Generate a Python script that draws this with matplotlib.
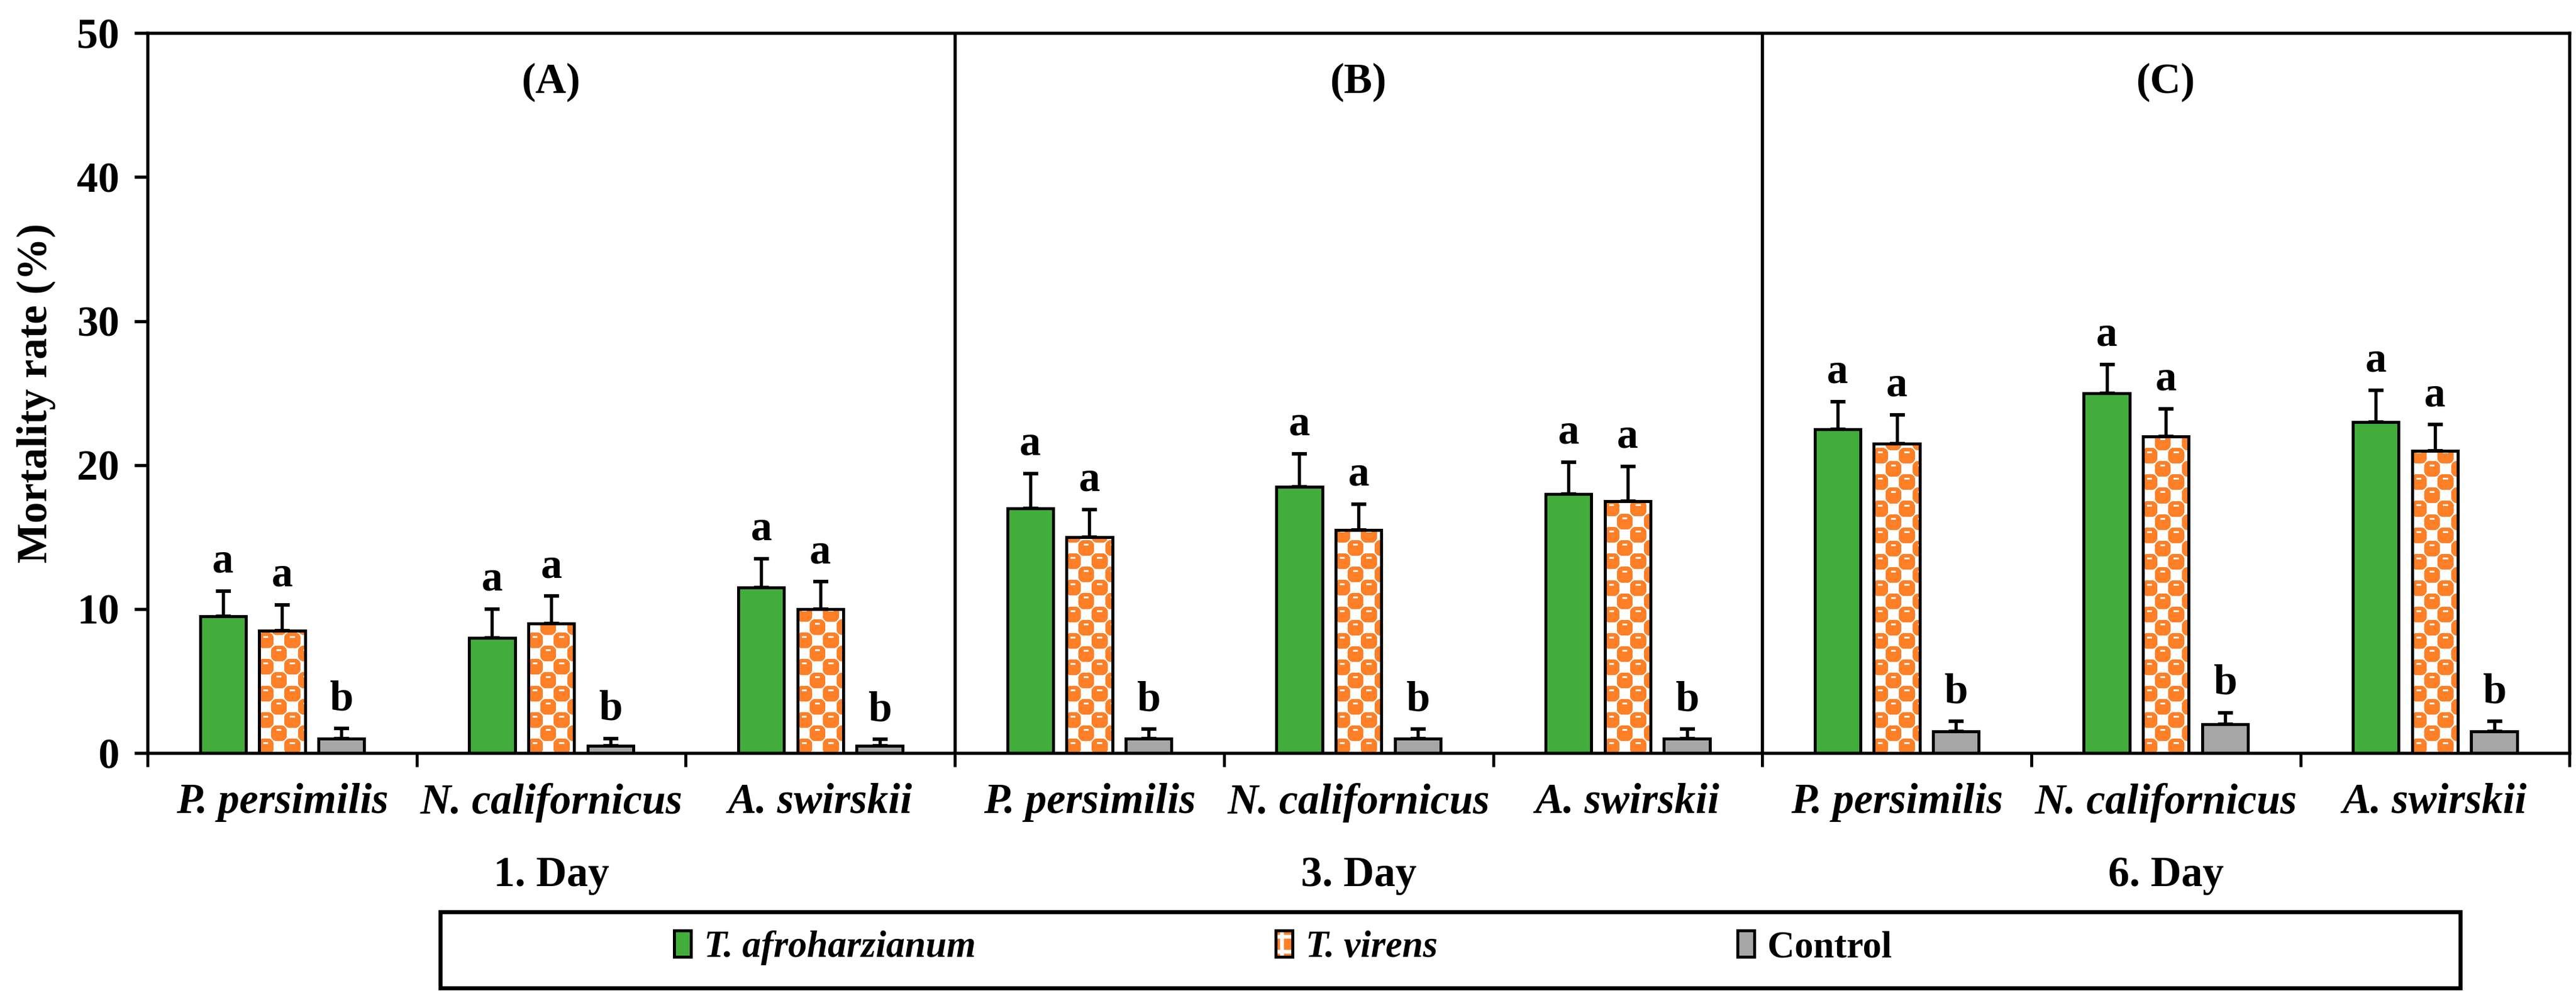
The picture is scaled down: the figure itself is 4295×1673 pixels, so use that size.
import numpy as np
import matplotlib
matplotlib.use("Agg")
import matplotlib.pyplot as plt
import matplotlib.transforms as mtransforms
from matplotlib.patches import Patch, Rectangle

plt.rcParams['font.family'] = ['Liberation Serif', 'DejaVu Serif']
plt.rcParams['font.weight'] = 'bold'
plt.rcParams['hatch.linewidth'] = 1.5

# ---- data ----
species = ["P. persimilis", "N. californicus", "A. swirskii"]
days = ["1. Day", "3. Day", "6. Day"]
panels = ["(A)", "(B)", "(C)"]
series = ["T. afroharzianum", "T. virens", "Control"]

# order: day1 (Pp, Nc, As), day3 (Pp, Nc, As), day6 (Pp, Nc, As)
afro = [9.5, 8.0, 11.5, 17.0, 18.5, 18.0, 22.5, 25.0, 23.0]
afro_se = [1.75, 2.0, 2.0, 2.4, 2.3, 2.2, 1.9, 2.0, 2.2]
virens = [8.5, 9.0, 10.0, 15.0, 15.5, 17.5, 21.5, 22.0, 21.0]
virens_se = [1.8, 1.9, 1.9, 1.9, 1.8, 2.4, 2.0, 1.9, 1.8]
control = [1.0, 0.5, 0.5, 1.0, 1.0, 1.0, 1.5, 2.0, 1.5]
control_se = [0.7, 0.5, 0.45, 0.65, 0.65, 0.65, 0.7, 0.8, 0.7]

afro_let = ["a", "a", "a", "a", "a", "a", "a", "a", "a"]
virens_let = ["a", "a", "a", "a", "a", "a", "a", "a", "a"]
control_let = ["b", "b", "b", "b", "b", "b", "b", "b", "b"]

GREEN = "#42AD3A"
ORANGE = "#FF7F27"
GRAY = "#A6A6A6"

W_PX, H_PX, DPI = 4295, 1673, 300
fig = plt.figure(figsize=(W_PX / DPI, H_PX / DPI), dpi=DPI)
ax_rect = [0.0573, 0.2492, 0.9402, 0.7178]
ax = fig.add_axes(ax_rect)

n = len(afro)
x = np.arange(n) + 0.5
off = 0.22
bw = 0.17
lw = 1.2

ax.bar(x - off, afro, bw, color=GREEN, edgecolor="black", linewidth=lw, zorder=2)
vbars = ax.bar(x, virens, bw, color=ORANGE, edgecolor="black", linewidth=lw, zorder=2)
ax.bar(x + off, control, bw, color=GRAY, edgecolor="black", linewidth=lw, zorder=2)

# checkerboard-like fill for the T. virens bars (rounded orange blobs, white gaps)
cell = 22
yy, xx = np.mgrid[0:2 * cell, 0:2 * cell] + 0.5
u = (xx % cell) / cell - 0.5
v = (yy % cell) / cell - 0.5
par = ((xx // cell) + (yy // cell)) % 2 == 0


def sdist(a, b):
    return (np.abs(a) ** 3 + np.abs(b) ** 3) ** (1 / 3)


r = 0.6
own = par & (sdist(u, v) < r)
near = np.zeros_like(par)
for du, dv in [(1, 0), (-1, 0), (0, 1), (0, -1)]:
    near |= sdist(u - du, v - dv) < r
near &= ~par
orange = own | near
dash = par & (v > 0.16) & (v < 0.3) & (np.abs(u) < 0.18)
tile = np.ones((2 * cell, 2 * cell, 3))
tile[orange] = matplotlib.colors.to_rgb(ORANGE)
tile[dash] = (1, 1, 1)

ux = 9 / (W_PX * ax_rect[2])
uy = 50 / (H_PX * ax_rect[3])
for rect in vbars:
    x0, w, h = rect.get_x(), rect.get_width(), rect.get_height()
    nx = int(np.ceil(w / (2 * cell * ux))) + 1
    ny = int(np.ceil(h / (2 * cell * uy))) + 1
    arr = np.tile(tile, (ny, nx, 1))
    im = ax.imshow(arr, extent=(x0, x0 + arr.shape[1] * ux, 0, arr.shape[0] * uy),
                   origin="lower", interpolation="nearest", aspect="auto", zorder=3)
    im.set_clip_path(rect)
ax.bar(x, virens, bw, fill=False, edgecolor="black", linewidth=lw, zorder=4)

for xs, vals, errs, lets in [(x - off, afro, afro_se, afro_let),
                             (x, virens, virens_se, virens_let),
                             (x + off, control, control_se, control_let)]:
    ax.errorbar(xs, vals, yerr=[np.zeros(n), errs], fmt="none", ecolor="black",
                elinewidth=1.3, capsize=3, capthick=1.4, zorder=5)
    for xi, vi, ei, li in zip(xs, vals, errs, lets):
        ax.text(xi, vi + ei + 1.3, li, ha="center", va="baseline", fontsize=17)

ax.set_xlim(0, 9)
ax.set_ylim(0, 50)

for sp in ax.spines.values():
    sp.set_linewidth(1.3)
for d in [3, 6]:
    ax.axvline(d, color="black", linewidth=1.3, zorder=6)

ax.set_yticks([0, 10, 20, 30, 40, 50])
ax.tick_params(axis="y", direction="out", length=5.3, width=1.3, pad=6, labelsize=17)
ax.set_xticks(x)
ax.set_xticklabels(species * 3, fontsize=17, style="italic")
ax.set_xticks(np.arange(10), minor=True)
ax.tick_params(axis="x", which="major", length=0, pad=12)
ax.tick_params(axis="x", which="minor", direction="out", length=5.5, width=1.2)

trans = mtransforms.blended_transform_factory(ax.transData, fig.transFigure)
for i in range(3):
    ax.text(3 * i + 1.5, 0.1273, days[i], transform=trans, ha="center", va="center", fontsize=17)
    ax.text(3 * i + 1.5, 46.6, panels[i], ha="center", va="center", fontsize=17)

fig.text(0.014, 0.608, "Mortality rate (%)", rotation=90, ha="center", va="center", fontsize=17)

handles = [Patch(facecolor=GREEN, edgecolor="black", linewidth=lw),
           (Patch(facecolor=ORANGE, edgecolor="white", hatch="++", linewidth=0),
            Patch(fill=False, edgecolor="black", linewidth=lw)),
           Patch(facecolor=GRAY, edgecolor="black", linewidth=lw)]
leg = fig.legend(handles, series, loc="center", bbox_to_anchor=(0.498, 0.055), ncol=3,
                 frameon=False, fontsize=15, handlelength=0.45, handleheight=0.7,
                 handletextpad=0.35, columnspacing=8, borderpad=0)
leg.get_texts()[0].set_style("italic")
leg.get_texts()[1].set_style("italic")
fig.add_artist(Rectangle((0.171, 0.015), 0.784, 0.076, transform=fig.transFigure,
                         fill=False, edgecolor="black", linewidth=1.6))

fig.savefig("out.png", dpi=DPI)
